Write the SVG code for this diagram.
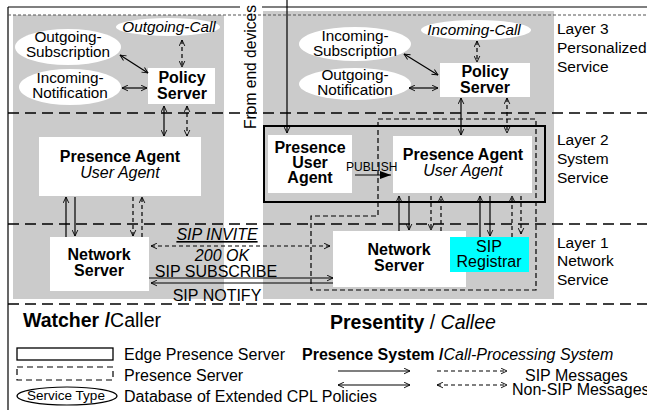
<svg xmlns="http://www.w3.org/2000/svg" width="647" height="410" viewBox="0 0 647 410">
<defs>
<style>
text{font-family:"Liberation Sans",Arial,Helvetica,sans-serif;font-size:16px;fill:#000}
.c{text-anchor:middle}
.b{font-weight:bold}
.i{font-style:italic}
.e{font-size:15.3px}
.lay{font-size:15.5px}
.gray{fill:#cbcbcb}
.box{fill:#fff}
.ell{fill:#fff}
.ln{stroke:#000;stroke-width:1.2;fill:none}
.dl{stroke:#000;stroke-width:1.2;fill:none;stroke-dasharray:4,3}
.layer{stroke:#000;stroke-width:1.4;stroke-dasharray:11,6;fill:none}
.a2{marker-start:url(#ah);marker-end:url(#ah)}
.a1{marker-end:url(#ah)}
</style>
<marker id="ah" viewBox="0 0 10 10" refX="9.5" refY="5" markerWidth="7" markerHeight="7" markerUnits="userSpaceOnUse" orient="auto-start-reverse">
<path d="M1,1 L9.5,5 L1,9" fill="none" stroke="#000" stroke-width="1.3" stroke-dasharray="none"/>
</marker>
<marker id="tri" viewBox="0 0 10 10" refX="10" refY="5" markerWidth="11" markerHeight="8" markerUnits="userSpaceOnUse" orient="auto" preserveAspectRatio="none">
<path d="M0,0 L10,5 L0,10 Z" fill="#000"/>
</marker>
</defs>

<!-- backgrounds -->
<rect class="gray" x="13" y="15" width="211" height="284"/>
<rect class="gray" x="263" y="11" width="291" height="288"/>

<!-- frame and layer lines -->
<g id="frame">
<line class="ln" x1="8" y1="7" x2="240" y2="7"/>
<line class="ln" x1="262" y1="7" x2="647" y2="7"/>
<line class="ln" x1="8" y1="7" x2="8" y2="410"/>
<line x1="8" y1="15" x2="647" y2="15" stroke="#555" stroke-width="1.2" stroke-dasharray="3,2"/>
<line class="layer" x1="8" y1="113" x2="647" y2="113"/>
<line class="layer" x1="8" y1="224" x2="647" y2="224"/>
<line class="layer" x1="8" y1="304" x2="647" y2="304"/>
</g>

<!-- left side nodes -->
<g id="out-call-l"><ellipse class="ell" cx="168" cy="27" rx="52" ry="9"/><text class="c i e" x="169" y="32">Outgoing-Call</text></g>
<g id="out-sub-l"><ellipse class="ell" cx="68" cy="47" rx="53" ry="18"/><text class="c e" x="68" y="42">Outgoing-</text><text class="c e" x="68" y="57">Subscription</text></g>
<g id="in-notif-l"><ellipse class="ell" cx="70" cy="87" rx="51" ry="18"/><text class="c e" x="70" y="83">Incoming-</text><text class="c e" x="70" y="98">Notification</text></g>
<g id="policy-l"><rect class="box" x="148" y="68" width="67" height="36"/><text class="c b" x="182" y="83">Policy</text><text class="c b" x="182" y="99">Server</text></g>
<g id="pa-l"><rect class="box" x="39" y="137" width="162" height="59"/><text class="c b" x="120" y="162">Presence Agent</text><text class="c i" x="120" y="178">User Agent</text></g>
<g id="ns-l"><rect class="box" x="50" y="237" width="99" height="54"/><text class="c b" x="99" y="260">Network</text><text class="c b" x="99" y="276">Server</text></g>

<!-- right side nodes -->
<g id="in-call-r"><ellipse class="ell" cx="476" cy="30" rx="55" ry="10"/><text class="c i e" x="474" y="35">Incoming-Call</text></g>
<g id="in-sub-r"><ellipse class="ell" cx="355" cy="44" rx="56" ry="17"/><text class="c e" x="355" y="41">Incoming-</text><text class="c e" x="355" y="56">Subscription</text></g>
<g id="out-notif-r"><ellipse class="ell" cx="355" cy="84" rx="56" ry="16"/><text class="c e" x="355" y="80">Outgoing-</text><text class="c e" x="355" y="95">Notification</text></g>
<g id="policy-r"><rect class="box" x="440" y="63" width="90" height="34"/><text class="c b" x="485" y="77">Policy</text><text class="c b" x="485" y="93">Server</text></g>
<g id="pua"><rect class="box" x="268" y="135" width="84" height="58"/><text class="c b" x="310" y="153">Presence</text><text class="c b" x="310" y="168">User</text><text class="c b" x="310" y="183">Agent</text></g>
<g id="pa-r"><rect class="box" x="393" y="136" width="139" height="57"/><text class="c b" x="463" y="160">Presence Agent</text><text class="c i" x="463" y="176">User Agent</text></g>
<g id="ns-r"><rect class="box" x="333" y="231" width="133" height="56"/><text class="c b" x="399" y="255">Network</text><text class="c b" x="399" y="271">Server</text></g>
<g id="sip-registrar"><rect x="450" y="237" width="79" height="35" fill="#00ffff"/><text class="c" x="489" y="252">SIP</text><text class="c" x="489" y="267">Registrar</text></g>

<!-- server boundaries -->
<g id="edge-presence-server"><rect x="264" y="126" width="281" height="76" fill="none" stroke="#000" stroke-width="2"/></g>
<g id="presence-server"><polygon points="378,119 536,119 536,290 311,290 311,216 378,216" fill="none" stroke="#000" stroke-width="1.2" stroke-dasharray="5,3"/></g>

<!-- connectors -->
<g id="connectors">
<line class="ln a2" x1="120" y1="55" x2="148" y2="73"/>
<line class="ln a2" x1="122" y1="88" x2="147" y2="88"/>
<line class="dl a2" x1="182" y1="40" x2="182" y2="67"/>
<line class="ln a2" x1="164" y1="106" x2="164" y2="136"/>
<line class="dl a2" x1="187" y1="106" x2="187" y2="136"/>
<line class="ln a1" x1="66" y1="237" x2="66" y2="197"/>
<line class="ln a1" x1="75" y1="197" x2="75" y2="236"/>
<line class="dl a1" x1="133" y1="197" x2="133" y2="236"/>
<line class="dl a1" x1="142" y1="237" x2="142" y2="197"/>
<line class="dl a2" x1="151" y1="246" x2="330" y2="246"/>
<line class="ln a1" x1="149" y1="278" x2="333" y2="278"/>
<line class="ln a1" x1="333" y1="283" x2="151" y2="283"/>

<line class="ln a2" x1="404" y1="54" x2="438" y2="75"/>
<line class="ln a2" x1="409" y1="88" x2="438" y2="88"/>
<line class="dl a2" x1="477" y1="41" x2="477" y2="62"/>
<line class="ln a2" x1="461" y1="98" x2="461" y2="135"/>
<line class="dl a2" x1="507" y1="98" x2="507" y2="133"/>
<line class="ln a1" x1="287" y1="0" x2="287" y2="133"/>
<line class="ln" x1="355" y1="175" x2="391" y2="175" marker-end="url(#tri)"/>
<line class="ln a1" x1="399" y1="231" x2="399" y2="196"/>
<line class="ln a1" x1="409" y1="196" x2="409" y2="230"/>
<line class="dl a1" x1="431" y1="196" x2="431" y2="230"/>
<line class="dl a1" x1="441" y1="231" x2="441" y2="196"/>
<line class="ln a1" x1="480" y1="237" x2="480" y2="196"/>
<line class="ln a1" x1="490" y1="196" x2="490" y2="236"/>
<line class="dl a1" x1="512" y1="237" x2="512" y2="196"/>
<line class="dl a1" x1="521" y1="196" x2="521" y2="234"/>
</g>

<!-- connector labels -->
<text x="256" y="129" transform="rotate(-90 256 129)" style="font-size:15.6px">From end devices</text>
<text x="346" y="171" style="font-size:12px">PUBLISH</text>
<text class="c i" x="217" y="240" text-decoration="underline">SIP INVITE</text>
<text class="c i" x="222" y="261">200 OK</text>
<text class="c" x="216" y="277">SIP SUBSCRIBE</text>
<text class="c" x="217" y="301">SIP NOTIFY</text>

<!-- layer labels -->
<text class="lay" x="557" y="34">Layer 3</text>
<text class="lay" x="557" y="53">Personalized</text>
<text class="lay" x="557" y="72">Service</text>
<text class="lay" x="557" y="145">Layer 2</text>
<text class="lay" x="557" y="164">System</text>
<text class="lay" x="557" y="183">Service</text>
<text class="lay" x="557" y="248">Layer 1</text>
<text class="lay" x="557" y="266">Network</text>
<text class="lay" x="557" y="285">Service</text>

<!-- bottom titles -->
<text x="23" y="327" style="font-size:19.5px"><tspan class="b">Watcher /</tspan><tspan>Caller</tspan></text>
<text x="330" y="329" style="font-size:19.5px"><tspan class="b">Presentity</tspan><tspan> / </tspan><tspan class="i">Callee</tspan></text>

<!-- legend -->
<g id="legend">
<rect x="17" y="348" width="96" height="12" fill="none" stroke="#000" stroke-width="1.3"/>
<rect x="17" y="367" width="96" height="13" fill="none" stroke="#000" stroke-width="1.2" stroke-dasharray="6,4"/>
<ellipse cx="67" cy="396" rx="50" ry="9" fill="none" stroke="#000" stroke-width="1.2"/>
<text class="c" x="66" y="400" style="font-size:13.5px">Service Type</text>
<text x="124" y="360">Edge Presence Server</text>
<text x="124" y="381">Presence Server</text>
<text x="124" y="402">Database of Extended CPL Policies</text>
<text x="302" y="360"><tspan class="b">Presence System /</tspan><tspan class="i">Call-Processing System</tspan></text>
<line class="ln a1" x1="338" y1="371" x2="410" y2="371"/>
<line class="ln a2" x1="338" y1="385" x2="410" y2="385"/>
<line class="dl a1" x1="437" y1="371" x2="507" y2="371"/>
<line class="dl a2" x1="437" y1="385" x2="507" y2="385"/>
<text x="525" y="381">SIP Messages</text>
<text x="512" y="395">Non-SIP Messages</text>
</g>
</svg>
